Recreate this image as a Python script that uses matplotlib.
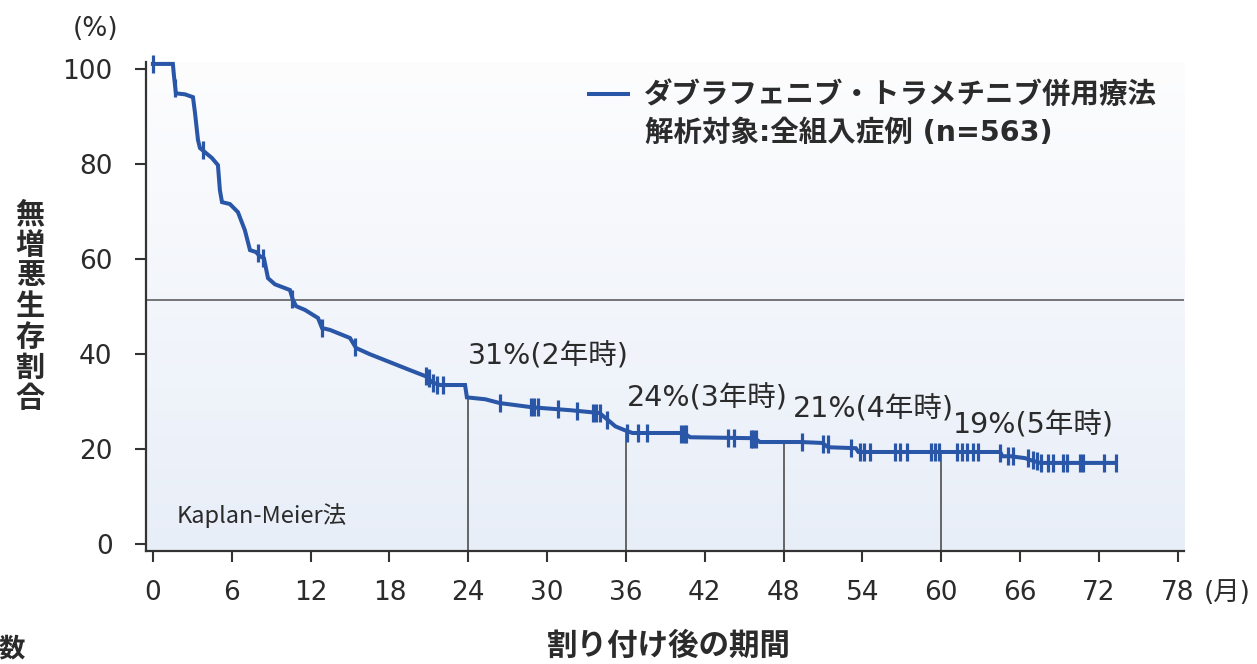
import numpy as np
import matplotlib
matplotlib.use("Agg")
import matplotlib.pyplot as plt

# フォント設定（数字は DejaVu、日本語は Noto Sans CJK JP）
plt.rcParams["font.family"] = ["DejaVu Sans", "Noto Sans CJK JP"]
JP = ["Noto Sans CJK JP", "DejaVu Sans"]

# 無増悪生存曲線（月, %）
pfs_t = [0.0, 1.52, 1.6, 1.75, 2.44, 3.05, 3.2, 3.43, 3.58, 4.49, 4.95, 5.1, 5.26,
         5.86, 6.47, 7.0, 7.39, 7.84, 8.15, 8.45, 8.76, 9.29, 10.43, 10.66, 10.9,
         11.58, 12.57, 12.87, 13.48, 15.0, 15.46, 16.5, 18.05, 19.6, 20.9, 21.2,
         21.86, 23.76, 23.9, 25.3, 26.4, 28.9, 31.76, 34.0, 34.65, 35.2, 35.9, 36.5,
         40.4, 40.9, 45.8, 46.2, 49.3, 50.95, 51.4, 53.5, 53.7, 64.5, 64.66, 65.3,
         66.4, 66.8, 67.55, 73.3]
pfs_s = [101.1, 101.1, 98.7, 94.9, 94.7, 94.1, 90.9, 85.1, 83.4, 81.3, 79.8, 74.5, 72.0,
         71.6, 69.9, 66.1, 61.9, 61.5, 60.6, 60.2, 56.0, 54.7, 53.5, 51.4, 50.1,
         49.3, 47.6, 45.5, 45.1, 43.4, 41.3, 40.0, 38.3, 36.6, 35.2, 34.1,
         33.5, 33.5, 30.9, 30.5, 29.7, 28.8, 28.2, 27.6, 26.1, 24.8, 24.0, 23.4,
         23.4, 22.5, 22.3, 21.5, 21.5, 21.3, 20.4, 20.2, 19.4, 19.4, 18.5, 18.5,
         18.1, 17.7, 17.1, 17.1]

# 打ち切り（月, %）
cens_t = [0.0, 1.7, 3.8, 8.0, 8.4, 10.6, 12.9, 15.4, 20.8, 21.0, 21.3, 21.6, 22.1,
          26.4, 28.8, 29.0, 29.3, 30.8, 32.3, 33.5, 33.7, 34.0, 34.6,
          36.1, 36.9, 37.6, 40.2, 40.4, 40.6, 43.8, 44.2, 45.5, 45.7, 45.9,
          49.4, 51.0, 51.4, 53.1, 53.8, 54.1, 54.6, 56.5, 56.9, 57.4,
          59.2, 59.5, 59.8, 61.2, 61.6, 62.0, 62.4, 62.8, 64.5, 65.1, 65.5,
          66.6, 67.0, 67.3, 67.6, 68.1, 68.5, 69.3, 69.6, 70.6, 70.8, 72.4, 73.3]
cens_s = [101.1, 96.0, 83.0, 61.2, 60.3, 51.6, 45.4, 41.5, 35.4, 35.0, 34.0, 33.6, 33.5,
          29.7, 28.8, 28.8, 28.8, 28.4, 28.0, 27.6, 27.6, 27.6, 26.2,
          23.4, 23.4, 23.4, 23.2, 23.2, 23.2, 22.4, 22.4, 22.2, 22.2, 22.2,
          21.5, 21.0, 21.0, 20.2, 19.4, 19.4, 19.4, 19.4, 19.4, 19.4,
          19.4, 19.4, 19.4, 19.4, 19.4, 19.4, 19.4, 19.4, 19.2, 18.5, 18.5,
          18.1, 17.7, 17.4, 17.1, 17.1, 17.1, 17.1, 17.1, 17.1, 17.1, 17.1, 17.1]

# 年ごとの生存割合
year_t = [24, 36, 48, 60]
year_s = [30.9, 24.0, 21.5, 19.4]
year_labels = ["31%(2年時)", "24%(3年時)", "21%(4年時)", "19%(5年時)"]
year_label_pos = [(24.0, 39.4), (36.1, 30.7), (48.7, 28.4), (60.9, 25.0)]
median_line = 51.4

x_ticks = list(range(0, 79, 6))
y_ticks = [0, 20, 40, 60, 80, 100]

blue = "#2a56a8"
text_c = "#2b2b2b"

fig = plt.figure(figsize=(12.57, 6.64), dpi=100)
ax = fig.add_axes([0.1161, 0.170, 0.826, 0.7366])
ax.set_xlim(-0.53, 78.5)
ax.set_ylim(-1.47, 101.5)

# 背景グラデーション
grad = np.linspace(0, 1, 256).reshape(-1, 1)
cmap = matplotlib.colors.LinearSegmentedColormap.from_list("bg", ["#e8eef8", "#fdfdfe"])
ax.imshow(grad, aspect="auto", cmap=cmap, origin="lower",
          extent=[-0.53, 78.5, -1.47, 101.5], zorder=0)

# 参照線
ax.axhline(median_line, color="#6a6a6a", lw=1.3, zorder=1)
ax.vlines(year_t, -1.47, year_s, color="#5a5a5a", lw=1.3, zorder=1)

# 生存曲線と打ち切り
ax.plot(pfs_t, pfs_s, color=blue, lw=2.9, solid_joinstyle="miter", zorder=3,
        clip_on=False, label="ダブラフェニブ・トラメチニブ併用療法")
ax.plot(cens_t, cens_s, ls="none", marker="|", ms=13, mew=2.3, color=blue,
        zorder=3, clip_on=False)

for (lx, ly), lab in zip(year_label_pos, year_labels):
    ax.text(lx, ly, lab, fontsize=20.5, color=text_c, va="center", ha="left")

ax.text(1.8, 6.1, "Kaplan-Meier法", fontsize=17, family=JP, color=text_c,
        va="center", ha="left")

# 凡例
leg = ax.legend(loc="upper left", bbox_to_anchor=(0.4025, 1.012), frameon=False,
                handlelength=1.35, handletextpad=0.55,
                prop={"size": 20.5, "weight": "bold", "family": JP})
for t in leg.get_texts():
    t.set_color(text_c)
ax.text(0.4807, 0.855, "解析対象:全組入症例 (n=563)", transform=ax.transAxes,
        fontsize=20.5, fontweight="bold", color=text_c, va="center", ha="left")

# 軸
for s in ["top", "right"]:
    ax.spines[s].set_visible(False)
for s in ["left", "bottom"]:
    ax.spines[s].set_color("#333333")
    ax.spines[s].set_linewidth(1.6)
ax.set_xticks(x_ticks)
ax.set_yticks(y_ticks)
ax.tick_params(axis="both", length=8, width=1.5, color="#333333",
               labelsize=19, labelcolor=text_c)
ax.tick_params(axis="x", pad=13)
ax.tick_params(axis="y", pad=16)

fig.text(0.076, 0.957, "(%)", fontsize=19, color=text_c, ha="center", va="center")
fig.text(0.024, 0.539, "\n".join("無増悪生存割合"), fontsize=21, fontweight="bold",
         family=JP, color=text_c, ha="center", va="center", linespacing=1.03)
fig.text(0.976, 0.107, "(月)", fontsize=19, color=text_c, ha="center", va="center")
fig.text(0.532, 0.028, "割り付け後の期間", fontsize=22, fontweight="bold",
         family=JP, color=text_c, ha="center", va="center")
fig.text(0.009, 0.022, "数", fontsize=19, fontweight="bold", family=JP,
         color=text_c, ha="center", va="center")

fig.savefig("out.png", dpi=100, facecolor="white")
